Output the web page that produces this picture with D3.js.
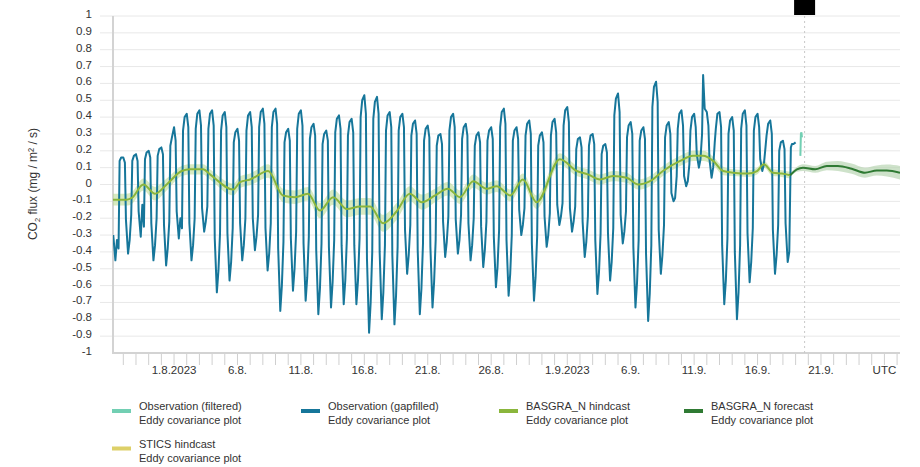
<!DOCTYPE html>
<html><head><meta charset="utf-8">
<script src="https://cdn.jsdelivr.net/npm/d3@7"></script>
<style>
html,body{margin:0;padding:0;background:#fff;}
svg{display:block;font-family:"Liberation Sans",Arial,sans-serif;}
</style></head>
<body><svg id="c" width="920" height="467"></svg>
<script>
// ---------------- DATA ----------------
const xDomain = ["2023-07-27T04:30Z", "2023-09-27T05:30Z"];
const yTicks = [1,0.9,0.8,0.7,0.6,0.5,0.4,0.3,0.2,0.1,0,-0.1,-0.2,-0.3,-0.4,-0.5,-0.6,-0.7,-0.8,-0.9,-1];
const yTickLabels = ["1","0.9","0.8","0.7","0.6","0.5","0.4","0.3","0.2","0.1","0","-0.1","-0.2","-0.3","-0.4","-0.5","-0.6","-0.7","-0.8","-0.9","-1"];
const xTickDates = ["2023-08-01","2023-08-06","2023-08-11","2023-08-16","2023-08-21","2023-08-26","2023-09-01","2023-09-06","2023-09-11","2023-09-16","2023-09-21","2023-09-26"];
const xTickLabels = ["1.8.2023","6.8.","11.8.","16.8.","21.8.","26.8.","1.9.2023","6.9.","11.9.","16.9.","21.9.","UTC"];
const nowTime = "2023-09-19T17:00Z";

// Observation (gapfilled): one row per day starting 27.7., values at the UTC hours in obsGapHours
const obsGapStart = "2023-07-27T00:00Z";
const obsGapHours = [0, 3, 5, 9, 12, 15, 17, 20];
const obsGapRows = [
 [null,null,-0.30,-0.45,-0.33,-0.38,0.14,0.16],
 [0.16,0.13,-0.21,-0.41,-0.33,-0.18,0.14,0.17],
 [0.18,0.14,-0.16,-0.31,-0.12,-0.25,0.15,0.19],
 [0.20,0.16,-0.23,-0.45,-0.36,-0.20,0.17,0.21],
 [0.22,0.18,-0.24,-0.48,-0.38,-0.22,0.23,0.28],
 [0.34,0.26,-0.16,-0.32,-0.20,-0.26,0.32,0.40],
 [0.42,0.34,-0.23,-0.45,-0.36,-0.20,0.33,0.42],
 [0.44,0.35,-0.14,-0.28,-0.22,-0.13,0.33,0.42],
 [0.44,0.35,-0.32,-0.64,-0.51,-0.29,0.32,0.41],
 [0.43,0.34,-0.29,-0.57,-0.46,-0.26,0.25,0.31],
 [0.33,0.26,-0.23,-0.45,-0.36,-0.20,0.32,0.41],
 [0.43,0.34,-0.20,-0.39,-0.31,-0.18,0.34,0.43],
 [0.45,0.36,-0.26,-0.51,-0.41,-0.23,0.34,0.43],
 [0.45,0.36,-0.38,-0.75,-0.60,-0.34,0.25,0.31],
 [0.33,0.26,-0.32,-0.63,-0.50,-0.28,0.33,0.42],
 [0.44,0.35,-0.35,-0.69,-0.55,-0.31,0.27,0.34],
 [0.36,0.29,-0.39,-0.77,-0.62,-0.35,0.24,0.30],
 [0.32,0.26,-0.37,-0.73,-0.58,-0.33,0.31,0.39],
 [0.41,0.33,-0.36,-0.71,-0.57,-0.32,0.29,0.37],
 [0.39,0.31,-0.36,-0.71,-0.57,-0.32,0.40,0.50],
 [0.53,0.42,-0.44,-0.88,-0.70,-0.40,0.39,0.49],
 [0.52,0.42,-0.40,-0.80,-0.64,-0.36,0.32,0.41],
 [0.43,0.34,-0.42,-0.83,-0.66,-0.37,0.32,0.40],
 [0.42,0.34,-0.27,-0.53,-0.42,-0.24,0.29,0.36],
 [0.38,0.30,-0.39,-0.77,-0.62,-0.35,0.26,0.33],
 [0.35,0.28,-0.37,-0.73,-0.58,-0.33,0.23,0.29],
 [0.30,0.24,-0.22,-0.43,-0.34,-0.19,0.32,0.40],
 [0.42,0.34,-0.21,-0.41,-0.33,-0.18,0.27,0.34],
 [0.36,0.29,-0.23,-0.45,-0.36,-0.20,0.23,0.29],
 [0.31,0.25,-0.25,-0.49,-0.39,-0.22,0.26,0.32],
 [0.34,0.27,-0.31,-0.61,-0.49,-0.27,0.34,0.43],
 [0.45,0.36,-0.33,-0.66,-0.53,-0.30,0.26,0.32],
 [0.34,0.27,-0.15,-0.30,-0.24,-0.14,0.29,0.36],
 [0.38,0.30,-0.35,-0.69,-0.55,-0.31,0.23,0.29],
 [0.31,0.25,-0.19,-0.37,-0.30,-0.17,0.29,0.37],
 [0.39,0.31,-0.12,-0.24,-0.19,-0.11,0.35,0.44],
 [0.46,0.37,-0.14,-0.28,-0.22,-0.13,0.21,0.27],
 [0.28,0.22,-0.22,-0.43,-0.34,-0.19,0.23,0.29],
 [0.30,0.24,-0.33,-0.65,-0.52,-0.29,0.18,0.23],
 [0.24,0.19,-0.29,-0.57,-0.46,-0.26,0.41,0.51],
 [0.54,0.43,-0.18,-0.35,-0.28,-0.16,0.28,0.35],
 [0.37,0.30,-0.37,-0.73,-0.58,-0.33,0.26,0.32],
 [0.34,0.27,-0.41,-0.81,-0.65,-0.36,0.46,0.58],
 [0.61,0.49,-0.27,-0.53,-0.42,-0.24,0.28,0.35],
 [0.37,0.30,-0.05,-0.10,-0.08,0.05,0.33,0.42],
 [0.44,0.35,0.05,-0.01,0.02,0.12,0.32,0.40],
 [0.42,0.34,0.18,0.10,0.15,0.30,0.65,0.45],
 [0.43,0.35,0.15,0.04,0.10,0.25,0.33,0.42],
 [0.43,0.34,-0.36,-0.71,-0.57,-0.32,0.30,0.38],
 [0.40,0.32,-0.40,-0.80,-0.64,-0.36,0.33,0.42],
 [0.44,0.35,-0.29,-0.58,-0.46,-0.26,0.32,0.40],
 [0.42,0.34,0.15,0.08,0.12,0.22,0.29,0.36],
 [0.38,0.30,-0.27,-0.53,-0.42,-0.24,0.20,0.25],
 [0.26,0.21,-0.23,-0.46,-0.40,0.22,0.24,0.24],
 [0.25]
];

// Observation (filtered)
const obsFiltTimes = ["2023-09-19T09:00Z","2023-09-19T10:00Z","2023-09-19T11:00Z","2023-09-19T12:00Z"];
const obsFiltValues = [0.17, 0.30, 0.31, 0.28];

// BASGRA_N hindcast
const hindTimes = ["2023-07-27T04:30Z","2023-07-28T06:30Z","2023-07-28T16:00Z","2023-07-29T14:00Z","2023-07-30T12:00Z","2023-07-31T10:00Z","2023-08-01T14:30Z","2023-08-02T06:00Z","2023-08-03T07:00Z","2023-08-03T20:00Z","2023-08-05T16:00Z","2023-08-06T05:00Z","2023-08-07T00:00Z","2023-08-08T10:00Z","2023-08-09T14:00Z","2023-08-10T13:00Z","2023-08-11T13:30Z","2023-08-12T12:00Z","2023-08-13T13:00Z","2023-08-14T15:00Z","2023-08-15T16:00Z","2023-08-16T11:00Z","2023-08-17T11:30Z","2023-08-18T13:00Z","2023-08-19T14:00Z","2023-08-20T13:00Z","2023-08-21T14:00Z","2023-08-22T14:00Z","2023-08-23T13:00Z","2023-08-24T14:00Z","2023-08-25T15:30Z","2023-08-26T10:30Z","2023-08-27T12:00Z","2023-08-28T12:00Z","2023-08-29T14:00Z","2023-08-31T10:00Z","2023-09-01T18:00Z","2023-09-02T15:00Z","2023-09-03T14:00Z","2023-09-04T14:30Z","2023-09-05T16:30Z","2023-09-06T14:00Z","2023-09-07T12:30Z","2023-09-08T13:00Z","2023-09-09T21:30Z","2023-09-10T22:00Z","2023-09-11T17:00Z","2023-09-12T12:00Z","2023-09-13T07:00Z","2023-09-14T02:00Z","2023-09-15T06:00Z","2023-09-15T23:00Z","2023-09-16T12:00Z","2023-09-17T05:00Z","2023-09-17T22:00Z","2023-09-18T13:30Z"];
const hindValues = [-0.09,-0.09,-0.08,0.0,-0.055,0.0,0.08,0.09,0.09,0.06,-0.03,0.014,0.03,0.08,-0.065,-0.075,-0.055,-0.155,-0.075,-0.145,-0.13,-0.13,-0.23,-0.16,-0.055,-0.105,-0.065,-0.025,-0.075,0.02,-0.025,-0.01,-0.065,0.03,-0.105,0.15,0.08,0.06,0.03,0.05,0.04,0.0,0.02,0.08,0.14,0.17,0.17,0.14,0.08,0.07,0.065,0.08,0.12,0.07,0.065,0.055];
const hindSpread = [0.035,0.035,0.035,0.035,0.04,0.035,0.03,0.03,0.03,0.03,0.035,0.035,0.035,0.04,0.04,0.04,0.04,0.045,0.045,0.05,0.05,0.05,0.05,0.05,0.045,0.045,0.04,0.04,0.04,0.04,0.035,0.035,0.035,0.035,0.04,0.035,0.03,0.03,0.03,0.03,0.03,0.03,0.03,0.03,0.03,0.03,0.03,0.025,0.025,0.02,0.02,0.02,0.02,0.02,0.02,0.02];

// BASGRA_N forecast
const foreTimes = ["2023-09-18T13:30Z","2023-09-19T02:30Z","2023-09-19T14:00Z","2023-09-20T13:00Z","2023-09-21T11:00Z","2023-09-22T08:00Z","2023-09-23T10:00Z","2023-09-24T11:00Z","2023-09-25T09:30Z","2023-09-26T04:30Z","2023-09-27T05:30Z"];
const foreValues = [0.055,0.09,0.10,0.09,0.11,0.11,0.094,0.07,0.083,0.083,0.07];
const foreSpread = [0.01,0.015,0.02,0.02,0.025,0.03,0.03,0.03,0.03,0.035,0.04];

// Legend
const legendNames = ["Observation (filtered)","Observation (gapfilled)","BASGRA_N hindcast","BASGRA_N forecast","STICS hindcast"];
const legendSub = "Eddy covariance plot";
const colors = {filt:"#72cfb3", gap:"#16769a", hind:"#8ab63c", hindBand:"#bcdc98", fore:"#2f7a33", foreBand:"#b9d6b4", stics:"#ddd068"};
const legendColors = [colors.filt, colors.gap, colors.hind, colors.fore, colors.stics];

// ---------------- CHART ----------------
const svg = d3.select("#c");
const L = 113, R = 900, T = 16, B = 353;
const x = d3.scaleUtc().domain(xDomain.map(d => new Date(d))).range([L, R]);
const y = d3.scaleLinear().domain([-1, 1]).range([B, T]);

// gridlines
svg.append("g").selectAll("line").data(yTicks.filter(v => v !== -1)).join("line")
  .attr("x1", 100).attr("x2", R).attr("y1", d => y(d)).attr("y2", d => y(d))
  .attr("stroke", "#e8e8e8").attr("stroke-width", 1);

// y tick labels
svg.append("g").selectAll("text").data(yTicks).join("text")
  .attr("x", 92).attr("y", d => y(d) - 2).attr("dy", "0.35em")
  .attr("text-anchor", "end").attr("font-size", 11.5).attr("fill", "#333")
  .text((d, i) => yTickLabels[i]);

// y axis title
const yt = svg.append("text").attr("transform", "translate(37,184) rotate(-90)")
  .attr("text-anchor", "middle").attr("font-size", 12).attr("fill", "#333");
yt.append("tspan").text("CO");
yt.append("tspan").attr("font-size", 7.5).attr("dy", 3).text("2");
yt.append("tspan").attr("dy", -3).text(" flux (mg / m² / s)");

// x axis: daily minor ticks
const days = d3.utcDay.range(new Date("2023-07-28T00:00Z"), new Date("2023-09-28T00:00Z"));
svg.append("g").selectAll("line").data(days.filter(d => x(d) <= R)).join("line")
  .attr("x1", d => x(d)).attr("x2", d => x(d)).attr("y1", B + 1).attr("y2", B + 12)
  .attr("stroke", "#cfcfcf").attr("stroke-width", 1);
svg.append("g").selectAll("text").data(xTickDates).join("text")
  .attr("x", d => x(new Date(d + "T00:00Z"))).attr("y", 374)
  .attr("text-anchor", "middle").attr("font-size", 11.5).attr("fill", "#333")
  .text((d, i) => xTickLabels[i]);

// axis frame
svg.append("line").attr("x1", L).attr("x2", L).attr("y1", T).attr("y2", B + 1)
  .attr("stroke", "#d3d3d3").attr("stroke-width", 2);
svg.append("line").attr("x1", L).attr("x2", R).attr("y1", B).attr("y2", B)
  .attr("stroke", "#d3d3d3").attr("stroke-width", 2);

// now line
const nx = x(new Date(nowTime));
svg.append("line").attr("x1", nx).attr("x2", nx).attr("y1", T).attr("y2", B)
  .attr("stroke", "#c8c8c8").attr("stroke-width", 1).attr("stroke-dasharray", "2,3");
svg.append("rect").attr("x", nx - 10.5).attr("y", 0).attr("width", 21).attr("height", 15).attr("fill", "#000");

svg.append("clipPath").attr("id", "clip").append("rect").attr("x", L).attr("y", T - 10).attr("width", R - L).attr("height", B - T + 10);
const plot = svg.append("g").attr("clip-path", "url(#clip)");

// series build
const gapStart = new Date(obsGapStart).getTime();
const gapData = [];
obsGapRows.forEach((row, i) => row.forEach((v, j) => {
  if (v !== null) gapData.push({t: new Date(gapStart + i * 864e5 + obsGapHours[j] * 36e5), v});
}));
const filtData = obsFiltTimes.map((t, i) => ({t: new Date(t), v: obsFiltValues[i]}));
const hindData = hindTimes.map((t, i) => ({t: new Date(t), v: hindValues[i], s: hindSpread[i]}));
const foreData = foreTimes.map((t, i) => ({t: new Date(t), v: foreValues[i], s: foreSpread[i]}));

const area = d3.area().x(d => x(d.t)).y0(d => y(d.v - d.s)).y1(d => y(d.v + d.s)).curve(d3.curveMonotoneX);
const line = d3.line().x(d => x(d.t)).y(d => y(d.v));
const sline = d3.line().x(d => x(d.t)).y(d => y(d.v)).curve(d3.curveMonotoneX);

plot.append("path").datum(hindData).attr("d", area).attr("fill", colors.hindBand).attr("opacity", 0.6);
plot.append("path").datum(foreData).attr("d", area).attr("fill", colors.foreBand).attr("opacity", 0.7);
plot.append("path").datum(gapData).attr("d", line).attr("fill", "none")
  .attr("stroke", colors.gap).attr("stroke-width", 2).attr("stroke-linejoin", "round");
plot.append("path").datum(hindData).attr("d", sline).attr("fill", "none")
  .attr("stroke", colors.hind).attr("stroke-width", 2);
plot.append("path").datum(foreData).attr("d", sline).attr("fill", "none")
  .attr("stroke", colors.fore).attr("stroke-width", 2);
plot.append("path").datum(filtData).attr("d", line).attr("fill", "none")
  .attr("stroke", colors.filt).attr("stroke-width", 2);

// legend
const legPos = [[112, 406.5], [301, 406.5], [499, 406.5], [684, 406.5], [112, 444]];
const lg = svg.append("g").selectAll("g").data(legendNames).join("g")
  .attr("transform", (d, i) => `translate(${legPos[i][0]},${legPos[i][1]})`);
lg.append("rect").attr("x", 0).attr("y", 2.5).attr("width", 19).attr("height", 4)
  .attr("fill", (d, i) => legendColors[i]);
lg.append("text").attr("x", 27).attr("y", 0).attr("dy", "0.35em").attr("font-size", 11).attr("fill", "#333").text(d => d);
lg.append("text").attr("x", 27).attr("y", 14).attr("dy", "0.35em").attr("font-size", 11).attr("fill", "#333").text(legendSub);
</script></body></html>
